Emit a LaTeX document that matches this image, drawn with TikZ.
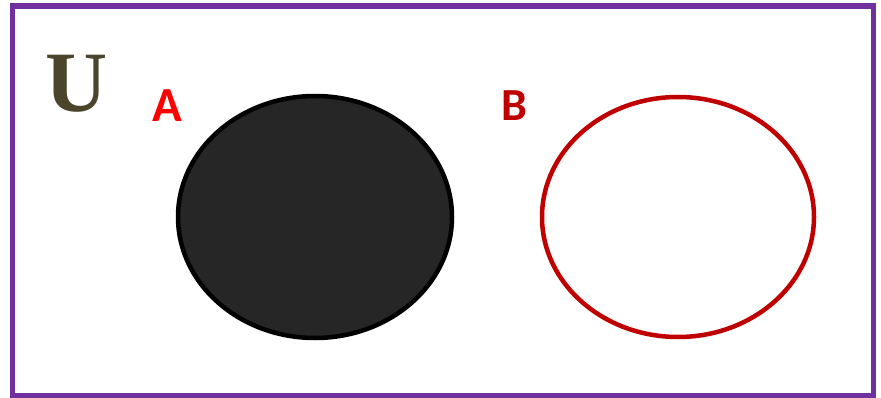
\documentclass[tikz,border=0pt]{standalone}
\usepackage{fontspec}
\newfontfamily\labelfont{Carlito}
\newfontfamily\univfont{Liberation Serif}
\definecolor{univ}{HTML}{7030A0}
\definecolor{setfill}{HTML}{262626}
\definecolor{darkred}{HTML}{C00000}
\definecolor{olive}{HTML}{4B452C}

\begin{document}
\begin{tikzpicture}[x=1pt,y=-1pt]
\useasboundingbox (0,0) rectangle (881,398);
\draw[univ,line width=5.5pt] (12.5,6) rectangle (873.5,395.5);
\fill[setfill] (315,217) ellipse (137 and 121);
\draw[black,line width=4.5pt] (315,217) ellipse (137 and 121);
\draw[darkred,line width=4.5pt] (678,217) ellipse (136 and 120);
\node[olive,font=\univfont\fontsize{86}{86}\selectfont\bfseries] (U) at (77,84) {U};
\node[red,font=\labelfont\fontsize{49}{49}\selectfont\bfseries] (A) at (167,106) {A};
\node[darkred,font=\labelfont\fontsize{46}{46}\selectfont\bfseries] (B) at (514,106) {B};
\end{tikzpicture}
\end{document}
